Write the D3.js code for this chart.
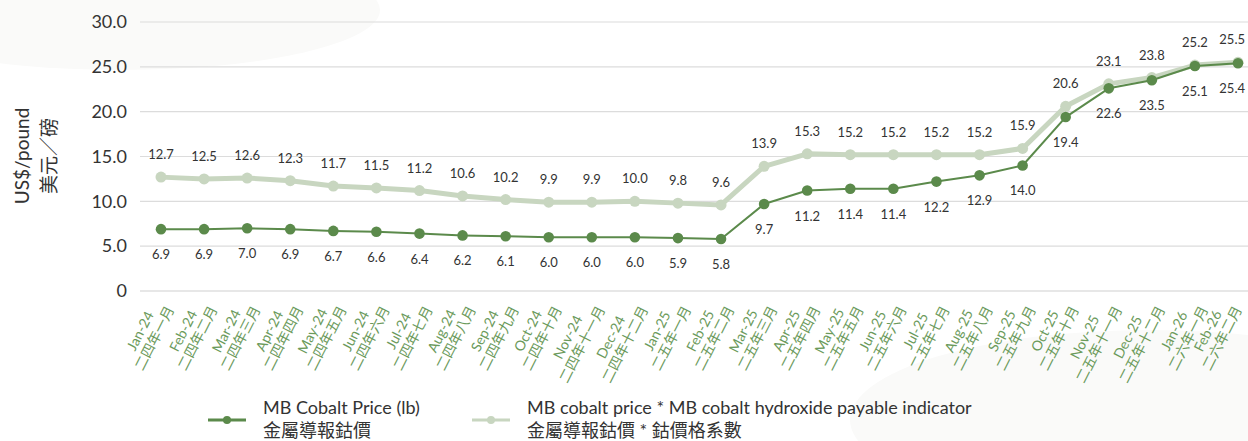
<!DOCTYPE html>
<html>
<head>
<meta charset="utf-8">
<script src="https://cdn.jsdelivr.net/npm/d3@7"></script>
<style>
  html, body { margin: 0; padding: 0; background: #ffffff; }
  svg { display: block; font-family: "Lato", "Noto Sans CJK TC", "Noto Sans", sans-serif; }
</style>
</head>
<body>
<svg id="chart" width="1248" height="441"></svg>
<script>
const months = ["Jan-24","Feb-24","Mar-24","Apr-24","May-24","Jun-24","Jul-24","Aug-24","Sep-24","Oct-24","Nov-24","Dec-24",
  "Jan-25","Feb-25","Mar-25","Apr-25","May-25","Jun-25","Jul-25","Aug-25","Sep-25","Oct-25","Nov-25","Dec-25","Jan-26","Feb-26"];
const monthsZh = ["二四年一月","二四年二月","二四年三月","二四年四月","二四年五月","二四年六月","二四年七月","二四年八月","二四年九月","二四年十月","二四年十一月","二四年十二月",
  "二五年一月","二五年二月","二五年三月","二五年四月","二五年五月","二五年六月","二五年七月","二五年八月","二五年九月","二五年十月","二五年十一月","二五年十二月","二六年一月","二六年二月"];
const mbCobalt = [6.9,6.9,7.0,6.9,6.7,6.6,6.4,6.2,6.1,6.0,6.0,6.0,5.9,5.8,9.7,11.2,11.4,11.4,12.2,12.9,14.0,19.4,22.6,23.5,25.1,25.4];
const mbPayable = [12.7,12.5,12.6,12.3,11.7,11.5,11.2,10.6,10.2,9.9,9.9,10.0,9.8,9.6,13.9,15.3,15.2,15.2,15.2,15.2,15.9,20.6,23.1,23.8,25.2,25.5];
const yTicks = [0,5,10,15,20,25,30];
const yTitle = ["US$/pound","美元／磅"];
const legendItems = [
  {en:"MB Cobalt Price (lb)", zh:"金屬導報鈷價"},
  {en:"MB cobalt price * MB cobalt hydroxide payable indicator", zh:"金屬導報鈷價 * 鈷價格系數"}
];

const darkGreen = "#5b8a4b";
const lightGreen = "#c8d6c0";
const W = 1248;
const svg = d3.select("#chart");

// faint background shapes
svg.append("ellipse").attr("cx",120).attr("cy",10).attr("rx",260).attr("ry",60).attr("fill","#fafaf9");
svg.append("ellipse").attr("cx",1150).attr("cy",420).attr("rx",300).attr("ry",90).attr("fill","#fafaf9");

const x = d3.scalePoint().domain(months).range([161,1238]);
const y = d3.scaleLinear().domain([0,30]).range([291,22]);

// y axis
const yAxis = d3.axisLeft(y).tickValues(yTicks).tickSize(0).tickPadding(0)
  .tickFormat(d => d === 0 ? "0" : d3.format(".1f")(d));
const gy = svg.append("g").attr("transform","translate(127,0)").call(yAxis);
gy.select(".domain").remove();
gy.selectAll("text").attr("font-size",18).attr("fill","#333").attr("font-family","Lato, sans-serif");
svg.append("g").selectAll("line").data(yTicks).join("line")
  .attr("x1",140).attr("x2",W).attr("y1",d=>y(d)).attr("y2",d=>y(d))
  .attr("stroke", d => d===0 ? "#cfcfcf" : "#dcdcdc").attr("stroke-width",1.2);

// y title
const yt = svg.append("g").attr("transform","translate(0,156)");
yt.append("text").attr("transform","translate(21,0) rotate(-90)").attr("text-anchor","middle")
  .attr("dominant-baseline","central").attr("font-size",19).attr("fill","#333").text(yTitle[0]);
yt.append("text").attr("transform","translate(48,0) rotate(-90)").attr("text-anchor","middle")
  .attr("dominant-baseline","central").attr("font-size",19).attr("fill","#333").text(yTitle[1]);

// x labels
const xl = svg.append("g");
months.forEach((m,i) => {
  const g = xl.append("g").attr("transform",`translate(${x(m)},291) rotate(-63)`);
  const t1 = g.append("text").attr("font-size",14).attr("fill","#6b9a5b").attr("text-anchor","middle")
    .attr("dominant-baseline","central").attr("y",-1).text(m);
  const t2 = g.append("text").attr("font-size",14).attr("fill","#6b9a5b").attr("text-anchor","middle")
    .attr("dominant-baseline","central").attr("y",15).text(monthsZh[i]);
  const L = Math.max(t1.node().getComputedTextLength(), t2.node().getComputedTextLength());
  t1.attr("x", -(L/2 + 10));
  t2.attr("x", -(L/2 + 10));
  // keep inside the right edge
  const bb = g.node().getBoundingClientRect();
  const over = bb.right - (W - 3);
  if (over > 0) g.attr("transform",`translate(${x(m) - over},291) rotate(-63)`);
});

// lines
const line = d3.line().x((d,i)=>x(months[i])).y(d=>y(d));
svg.append("path").datum(mbPayable).attr("d",line).attr("fill","none").attr("stroke",lightGreen).attr("stroke-width",5).attr("stroke-linejoin","round");
svg.append("g").selectAll("circle").data(mbPayable).join("circle")
  .attr("cx",(d,i)=>x(months[i])).attr("cy",d=>y(d)).attr("r",5.5).attr("fill",lightGreen);
svg.append("path").datum(mbCobalt).attr("d",line).attr("fill","none").attr("stroke",darkGreen).attr("stroke-width",2).attr("stroke-linejoin","round");
svg.append("g").selectAll("circle").data(mbCobalt).join("circle")
  .attr("cx",(d,i)=>x(months[i])).attr("cy",d=>y(d)).attr("r",5.3).attr("fill",darkGreen);

// data labels (kept inside the right edge)
function addLabels(data, dy) {
  svg.append("g").selectAll("text").data(data).join("text")
    .attr("x",(d,i)=>x(months[i])).attr("y",d=>y(d)+dy).attr("text-anchor","middle").attr("dominant-baseline","central")
    .attr("font-size",13).attr("fill","#333").text(d=>d3.format(".1f")(d))
    .each(function() {
      const w = this.getComputedTextLength();
      const cx = +this.getAttribute("x");
      if (cx + w/2 > W - 3) this.setAttribute("x", W - 3 - w/2);
    });
}
addLabels(mbPayable, -23);
addLabels(mbCobalt, 25);

// legend
const legendX = [208, 472];
const colors = [darkGreen, lightGreen];
legendItems.forEach((it,i) => {
  const g = svg.append("g").attr("transform",`translate(${legendX[i]},0)`);
  g.append("line").attr("x1",0).attr("x2",38).attr("y1",420).attr("y2",420).attr("stroke",colors[i]).attr("stroke-width",3);
  g.append("circle").attr("cx",19).attr("cy",420).attr("r",4).attr("fill",colors[i]);
  g.append("text").attr("x",55).attr("y",414).attr("font-size",18).attr("fill","#333").text(it.en);
  g.append("text").attr("x",55).attr("y",437).attr("font-size",18).attr("fill","#333").text(it.zh);
});
</script>
</body>
</html>
